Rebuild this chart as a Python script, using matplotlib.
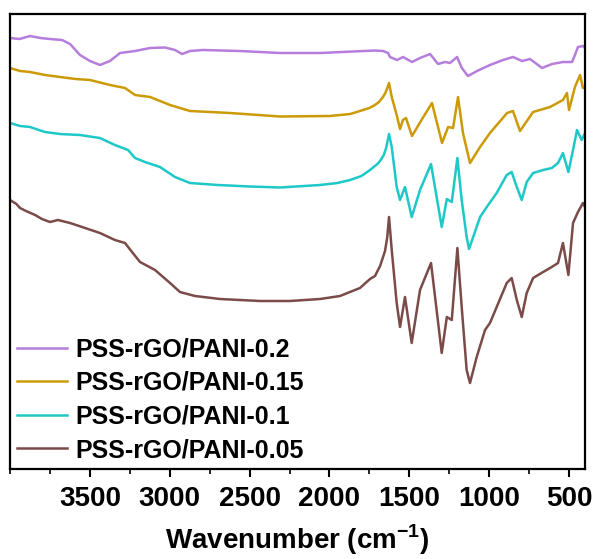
import matplotlib
matplotlib.use('Agg')
import matplotlib.pyplot as plt
from matplotlib.ticker import MultipleLocator

plt.rcParams['font.family'] = ['Liberation Sans', 'DejaVu Sans']
plt.rcParams['font.weight'] = 'bold'
plt.rcParams['mathtext.fontset'] = 'custom'
plt.rcParams['mathtext.bf'] = 'Liberation Sans:bold'
plt.rcParams['mathtext.rm'] = 'Liberation Sans:bold'

# FTIR traces (wavenumber in cm-1, stacked transmittance in a.u.)
wn_02 = [4000, 3940, 3875, 3810, 3750, 3674, 3624, 3562, 3499, 3437, 3374, 3311, 3217, 3123,
         3030, 2967, 2923, 2873, 2792, 2560, 2310, 2059, 1715, 1665, 1633, 1621, 1577, 1539,
         1483, 1433, 1370, 1320, 1276, 1245, 1201, 1171, 1133, 1076, 995, 913, 851, 794, 744,
         669, 606, 538, 481, 463, 444, 413, 400]
t_02 = [431, 430, 433, 431, 430, 429, 425, 414, 408, 404, 408, 416, 418, 421,
        421.5, 419, 415, 418, 419, 418, 416, 416, 418.5, 418, 416, 412, 409, 412,
        407, 411, 415, 405, 407, 406, 412, 401, 393, 398, 404, 409, 412, 408, 410,
        401, 405, 407, 407, 414, 422, 423, 421]

wn_015 = [4000, 3937, 3875, 3780, 3687, 3590, 3499, 3374, 3280, 3217, 3123, 2998, 2873, 2623,
          2310, 1996, 1870, 1809, 1750, 1715, 1690, 1665, 1650, 1640, 1627, 1610, 1579, 1558,
          1540, 1521, 1483, 1420, 1358, 1295, 1257, 1226, 1195, 1164, 1120, 1057, 995, 888,
          851, 807, 725, 619, 538, 513, 500, 463, 431, 413, 400]
t_015 = [401, 398, 397, 394, 392, 390, 389, 384, 381, 374, 372, 364, 358, 356,
         352.5, 353, 355, 358, 361, 364, 367, 372, 376, 380, 386, 372, 354, 340,
         349, 351, 333, 350, 366, 326, 342, 341, 372, 336, 306, 322, 336, 356,
         358, 338, 357, 362, 369, 376, 359, 382, 394, 381, 382]

wn_01 = [4000, 3937, 3875, 3781, 3687, 3562, 3437, 3343, 3261, 3217, 3155, 3061, 2967, 2873,
         2700, 2497, 2310, 2059, 1950, 1871, 1800, 1746, 1700, 1683, 1660, 1645, 1627, 1610,
         1579, 1558, 1527, 1485, 1433, 1364, 1297, 1265, 1234, 1199, 1172, 1141, 1126, 1057,
         1015, 953, 890, 859, 827, 796, 765, 725, 662, 608, 569, 538, 504, 475, 450, 421, 400]
t_01 = [346, 343, 342, 337, 335, 334, 331, 324, 319, 311, 307, 302, 292, 286,
        284, 282.5, 281.5, 284, 286, 289, 293, 299, 305, 308, 314, 321, 335, 322,
        282, 269, 282, 252, 279, 305, 242, 270, 267, 311, 269, 232, 220, 252,
        262, 276, 294, 297, 282, 269, 287, 296, 299, 301, 306, 316, 297, 319, 339, 329, 336]

wn_005 = [4000, 3960, 3937, 3900, 3843, 3800, 3750, 3700, 3624, 3530, 3437, 3343, 3280, 3236,
          3186, 3092, 2998, 2936, 2842, 2685, 2435, 2247, 2059, 1934, 1809, 1746, 1715, 1683,
          1652, 1638, 1627, 1610, 1579, 1558, 1527, 1485, 1433, 1364, 1297, 1265, 1234, 1199,
          1172, 1141, 1120, 1078, 1026, 995, 890, 859, 827, 796, 765, 725, 662, 608, 569, 538,
          504, 475, 444, 413, 400]
t_005 = [269, 265, 261, 258, 254, 250, 247, 249, 246, 241, 236, 229, 226, 217,
         207, 199, 186, 177, 173, 170, 168, 168, 170, 173, 181, 190, 193, 203,
         218, 232, 252, 219, 166, 142, 172, 126, 179, 206, 116, 152, 149, 221,
         162, 99, 86, 112, 139, 146, 186, 191, 169, 152, 176, 191, 197, 202, 206, 226,
         194, 246, 257, 266, 262]

labels = ['PSS-rGO/PANI-0.2', 'PSS-rGO/PANI-0.15', 'PSS-rGO/PANI-0.1', 'PSS-rGO/PANI-0.05']
colors = ['#B57EDC', '#CC9A06', '#1EC8C8', '#7A4B48']

fig = plt.figure(figsize=(5.98, 5.59), dpi=100)
ax = fig.add_axes([10 / 598, 90 / 559, 575 / 598, 455 / 559])

series = [(wn_02, t_02), (wn_015, t_015), (wn_01, t_01), (wn_005, t_005)]
for (x, y), lab, c in zip(series, labels, colors):
    ax.plot(x, y, color=c, lw=1.8, label=lab)

ax.set_xlim(4000, 400)
ax.set_ylim(0, 455)
ax.xaxis.set_minor_locator(MultipleLocator(250))
ax.set_xticks([3500, 3000, 2500, 2000, 1500, 1000, 500])
ax.set_yticks([])
ax.tick_params(axis='x', which='major', direction='out', length=6, width=1.5,
               labelsize=20, pad=6)
ax.tick_params(axis='x', which='minor', direction='out', length=3.6, width=1.2)
for lbl in ax.get_xticklabels():
    lbl.set_fontweight('bold')
for s in ax.spines.values():
    s.set_linewidth(1.6)

ax.set_xlabel('Wavenumber (cm$^{\\mathbf{-1}}$)', fontsize=20, fontweight='bold', labelpad=8)

ax.legend(loc='lower left', bbox_to_anchor=(0.0, 0.0), frameon=False,
          prop={'size': 18, 'weight': 'bold'}, handlelength=2.0, handletextpad=0.32,
          labelspacing=0.38, borderaxespad=0.0, borderpad=0.28)

fig.savefig('out.png', dpi=100)
